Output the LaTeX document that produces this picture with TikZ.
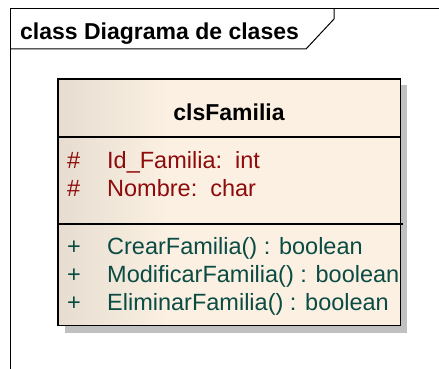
\documentclass[tikz,border=0pt]{standalone}
\usepackage{fontspec}
\setmainfont{Liberation Sans}
\usetikzlibrary{calc}
\definecolor{attrc}{HTML}{8E0B0B}
\definecolor{methc}{HTML}{0A4B44}
\definecolor{fillL}{HTML}{E6DDD0}
\definecolor{fillR}{HTML}{FBF0E2}
\definecolor{shadowc}{HTML}{C0C0C0}
\begin{document}
\begin{tikzpicture}[x=1pt,y=-1pt,
  frameline/.style={draw=black,line width=1pt},
  boxline/.style={draw=black,line width=1.2pt},
  title/.style={font=\bfseries\fontsize{23}{25}\selectfont,anchor=base west,inner sep=0},
  cname/.style={font=\bfseries\fontsize{23}{25}\selectfont,anchor=base,inner sep=0},
  attr/.style={font=\fontsize{23.5}{25}\selectfont,text=attrc,anchor=base west,inner sep=0},
  meth/.style={font=\fontsize{23.5}{25}\selectfont,text=methc,anchor=base west,inner sep=0}]
\useasboundingbox (0,0) rectangle (439,369);
% frame
\coordinate (ftl) at (10,9);
\coordinate (ftr) at (439,9);
\coordinate (fbl) at (10,369);
\coordinate (tabA) at (334,9);
\coordinate (tabB) at (334,19);
\coordinate (tabC) at (306,49);
\coordinate (tabD) at (10,49);
\draw[frameline] (ftr) -- (ftl) -- (fbl);
\draw[frameline] (tabA) -- (tabB) -- (tabC) -- (tabD);
\node[title] (ttl) at (20,40) {class Diagrama de clases};
% shadow
\fill[shadowc] (65,85) rectangle (407,333);
% class box
\node[draw=none,minimum width=342pt,minimum height=246pt,anchor=north west,inner sep=0] (cls) at (58,79) {};
\fill[fillR] (cls.north west) rectangle (cls.south east);
\shade[left color=fillL,right color=fillR,shading angle=90] (cls.north west) rectangle ($(cls.south west)+(110,0)$);
\draw[boxline] (cls.north west) rectangle (cls.south east);
\coordinate (s1l) at (58,137);
\coordinate (s1r) at (400,137);
\coordinate (s2l) at (58,224);
\coordinate (s2r) at (403,224);
\draw[boxline] (s1l) -- (s1r);
\draw[boxline] (s2l) -- (s2r);
\node[cname] (nm) at (229,120) {clsFamilia};
\node[attr] (a1h) at (67,168) {\#};
\node[attr] (a1) at (107,168) {Id\_Familia:\ \ int};
\node[attr] (a2h) at (67,196) {\#};
\node[attr] (a2) at (107,196) {Nombre:\ \ char};
\node[meth] (m1h) at (67,254) {+};
\node[meth] (m1) at (107,254) {CrearFamilia() : boolean};
\node[meth] (m2h) at (67,282) {+};
\node[meth] (m2) at (107,282) {ModificarFamilia() : boolean};
\node[meth] (m3h) at (67,310) {+};
\node[meth] (m3) at (107,310) {EliminarFamilia() : boolean};
\end{tikzpicture}
\end{document}
